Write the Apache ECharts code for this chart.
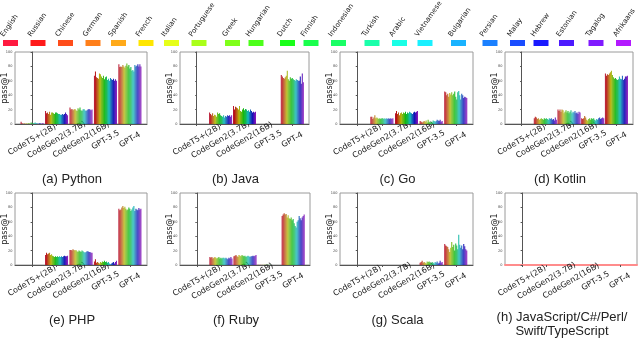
<!DOCTYPE html>
<html>
<head>
<meta charset="utf-8">
<script src="https://cdn.jsdelivr.net/npm/echarts@6/dist/echarts.min.js"></script>
<style>
html, body { margin: 0; background: #fff; }
#chart { width: 640px; height: 342px; }
</style>
</head>
<body>
<div id="chart"></div>
<script>
const languages = ['English', 'Russian', 'Chinese', 'German', 'Spanish', 'French', 'Italian', 'Portuguese',
    'Greek', 'Hungarian', 'Dutch', 'Finnish', 'Indonesian', 'Turkish', 'Arabic', 'Vietnamese', 'Bulgarian',
    'Persian', 'Malay', 'Hebrew', 'Estonian', 'Tagalog', 'Afrikaans'];

const languageColors = ['#ff1a40', '#ff1a1a', '#ff4d1a', '#ff7f1a', '#ffaa1a', '#ffe600', '#e6ff1a', '#aaff1a',
    '#80ff1a', '#4dff1a', '#1aff1a', '#1aff4d', '#1aff66', '#1affaa', '#1affe6', '#1af0ff', '#1ab3ff',
    '#1a80ff', '#1a4dff', '#1a1aff', '#4d1aff', '#801aff', '#b31aff'];

const models = ['CodeT5+(2B)', 'CodeGen2(3.7B)', 'CodeGen2(16B)', 'GPT-3.5', 'GPT-4'];

const zeros = languages.map(() => 0);

// one row per model, one value per language
const python = [
    [3, 1, 0, 1, 0, 1, 0, 1, 1, 0, 2, 1, 1, 1, 2, 1, 1, 0, 1, 1, 0, 1, 1],
    [18, 15, 16, 14, 17, 13, 16, 16, 15, 14, 16, 16, 15, 14, 14, 13, 13, 14, 13, 14, 16, 14, 12],
    [23, 20, 21, 19, 20, 21, 19, 18, 22, 20, 23, 19, 18, 20, 21, 19, 18, 19, 20, 21, 20, 19, 20],
    [67, 73, 65, 64, 63, 70, 69, 66, 64, 67, 62, 65, 66, 61, 63, 60, 64, 62, 61, 63, 60, 62, 60],
    [83, 79, 80, 79, 82, 80, 78, 81, 84, 80, 82, 77, 79, 74, 75, 73, 82, 80, 81, 83, 80, 83, 80],
];
const java = [
    zeros,
    [16, 14, 12, 15, 11, 13, 12, 10, 16, 14, 15, 12, 11, 10, 12, 9, 11, 10, 12, 11, 12, 10, 12],
    [25, 20, 24, 23, 22, 20, 25, 18, 17, 20, 22, 19, 21, 20, 18, 19, 17, 20, 18, 16, 17, 16, 17],
    zeros,
    [68, 66, 64, 63, 65, 67, 74, 62, 60, 65, 63, 64, 62, 61, 60, 62, 61, 60, 60, 66, 56, 70, 58],
];
const go = [
    zeros,
    [10, 10, 7, 9, 12, 8, 9, 8, 7, 8, 7, 8, 8, 7, 8, 7, 8, 7, 8, 7, 8, 7, 8],
    [15, 18, 14, 16, 12, 15, 16, 14, 16, 15, 17, 14, 16, 15, 17, 16, 15, 14, 16, 17, 16, 17, 18],
    [4, 3, 2, 3, 4, 3, 5, 2, 6, 3, 2, 3, 2, 5, 4, 3, 4, 6, 5, 4, 6, 3, 4],
    [45, 44, 40, 42, 38, 43, 41, 44, 40, 42, 45, 38, 34, 44, 46, 40, 34, 42, 40, 36, 38, 37, 36],
];
const kotlin = [
    zeros,
    [8, 10, 9, 7, 8, 6, 7, 8, 7, 6, 8, 7, 8, 7, 6, 8, 7, 8, 6, 7, 5, 9, 6],
    [20, 18, 20, 17, 20, 19, 15, 17, 19, 16, 18, 15, 17, 19, 15, 17, 16, 18, 15, 16, 14, 17, 16],
    [8, 7, 8, 11, 9, 6, 5, 7, 8, 6, 8, 7, 8, 6, 5, 7, 6, 8, 9, 7, 8, 9, 8],
    [70, 67, 69, 68, 70, 72, 74, 68, 65, 63, 64, 62, 61, 62, 66, 63, 62, 67, 61, 63, 66, 66, 67],
];
const php = [
    zeros,
    [14, 17, 15, 16, 17, 14, 15, 13, 12, 11, 12, 11, 12, 11, 12, 11, 12, 11, 12, 13, 12, 12, 13],
    [21, 21, 20, 22, 21, 20, 21, 19, 18, 20, 19, 18, 20, 19, 18, 17, 18, 19, 19, 18, 18, 17, 17],
    [5, 8, 3, 4, 3, 2, 4, 3, 5, 4, 6, 4, 5, 3, 4, 2, 1, 2, 3, 4, 2, 4, 6],
    [78, 76, 77, 80, 82, 79, 81, 78, 76, 77, 80, 78, 75, 77, 80, 82, 75, 78, 77, 76, 79, 77, 78],
];
const ruby = [
    zeros,
    [11, 10, 11, 9, 10, 11, 10, 9, 10, 11, 9, 10, 9, 10, 10, 9, 10, 9, 8, 10, 9, 11, 9],
    [12, 13, 14, 12, 11, 14, 13, 12, 14, 13, 12, 13, 11, 12, 13, 12, 11, 12, 12, 13, 12, 13, 14],
    [0.5, 0, 0.5, 0, 0.5, 0, 0.5, 0.5, 0, 0.5, 0.5, 0, 0.5, 0, 0, 0, 0, 0, 0, 0, 0, 0, 0],
    [68, 70, 72, 70, 71, 66, 69, 65, 64, 66, 62, 64, 58, 54, 52, 60, 62, 68, 65, 62, 66, 68, 70],
];
const scala = [
    zeros,
    zeros,
    zeros,
    [3, 4, 6, 3, 4, 3, 2, 5, 4, 5, 3, 2, 4, 3, 2, 4, 3, 5, 2, 3, 6, 3, 4],
    [29, 27, 26, 25, 22, 18, 24, 32, 25, 28, 20, 30, 27, 22, 42, 28, 24, 27, 22, 29, 26, 22, 20],
];
const others = [zeros, zeros, zeros, zeros, zeros];

const panelScores = [python, java, go, kotlin, php, ruby, scala, others];
const panelTitles = ['(a) Python', '(b) Java', '(c) Go', '(d) Kotlin', '(e) PHP', '(f) Ruby', '(g) Scala',
    '(h) JavaScript/C#/Perl/\nSwift/TypeScript'];

// plot boxes [left, right, top, bottom]
const boxes = [
    [15, 147, 52, 124], [180, 309, 52, 124], [340, 473, 52, 124], [505, 633, 52, 124],
    [15, 147, 193, 265], [180, 310, 193, 265], [340, 473, 193, 265], [505, 637, 193, 265],
];

const smallFont = '"DejaVu Sans", sans-serif';

// thin bars read darker than the legend swatches
const shade = (hex, f) => {
    const n = parseInt(hex.slice(1), 16);
    const c = [(n >> 16) & 255, (n >> 8) & 255, n & 255].map((v) => Math.round(v * f));
    return `rgb(${c.join(',')})`;
};

const chart = echarts.init(document.getElementById('chart'), null, { renderer: 'canvas' });

const grids = [], xAxes = [], yAxes = [], series = [], titles = [];
boxes.forEach(([l, r, t, b], p) => {
    grids.push({
        left: l, top: t, width: r - l, height: b - t,
        show: true, borderColor: '#9a9a9a', borderWidth: 1,
        outerBoundsMode: 'none',
    });
    xAxes.push({
        type: 'value', gridIndex: p, min: -0.7, max: 4.7,
        splitLine: { show: false },
        axisLine: { lineStyle: p === 7 ? { color: '#ff8c8c', width: 2 } : { color: '#555', width: 1 } },
        axisTick: { customValues: [0, 1, 2, 3, 4], length: 2, lineStyle: { color: '#555' } },
        axisLabel: {
            customValues: [0, 1, 2, 3, 4],
            formatter: (v) => models[Math.round(v)],
            rotate: 30, align: 'center', verticalAlign: 'middle', margin: 16,
            fontSize: 8, color: '#222', fontFamily: smallFont,
        },
    });
    yAxes.push({
        type: 'value', gridIndex: p, min: 0, max: 100, interval: 20,
        name: 'pass@1', nameLocation: 'middle', nameGap: 6, nameMoveOverlap: false,
        nameTextStyle: { fontSize: 8, color: '#222', fontFamily: smallFont },
        splitLine: { show: false },
        axisLine: { show: true, lineStyle: { color: '#555' } },
        axisTick: { show: true, length: 1.5, lineStyle: { color: '#555' } },
        axisLabel: { fontSize: 3.5, color: '#444', margin: 2.5, fontFamily: smallFont },
    });
    const scores = panelScores[p];
    languages.forEach((lang, i) => {
        series.push({
            name: lang, type: 'bar', xAxisIndex: p, yAxisIndex: p,
            data: models.map((m, k) => [k, scores[k][i]]),
            itemStyle: { color: shade(languageColors[i], 0.72) },
            barGap: 0, barCategoryGap: '12%',
            silent: true,
        });
    });
    titles.push({
        text: panelTitles[p],
        left: (l + r) / 2 - 9, top: p === 7 ? 310 : t + 120,
        textAlign: 'center', padding: 0,
        textStyle: { fontSize: 13, fontWeight: 'normal', color: '#222', fontFamily: '"Liberation Sans", Arial, sans-serif', lineHeight: 14 },
    });
});

// legend: colour swatch with the name rotated above it
const legendItems = [];
let lx = 3;
languages.forEach((lang, i) => {
    legendItems.push({
        type: 'rect', shape: { x: lx, y: 40, width: 15, height: 6 },
        style: { fill: languageColors[i] },
    });
    legendItems.push({
        type: 'text', x: lx + 2, y: 38, rotation: 55 * Math.PI / 180,
        style: { text: lang, fontSize: 7, fontFamily: smallFont, fill: '#222', textAlign: 'left', textVerticalAlign: 'bottom' },
    });
    lx += 13.5 + 2 * lang.length;
});

chart.setOption({
    backgroundColor: '#fff',
    animation: false,
    title: titles,
    grid: grids,
    xAxis: xAxes,
    yAxis: yAxes,
    series: series,
    graphic: legendItems,
});
</script>
</body>
</html>
